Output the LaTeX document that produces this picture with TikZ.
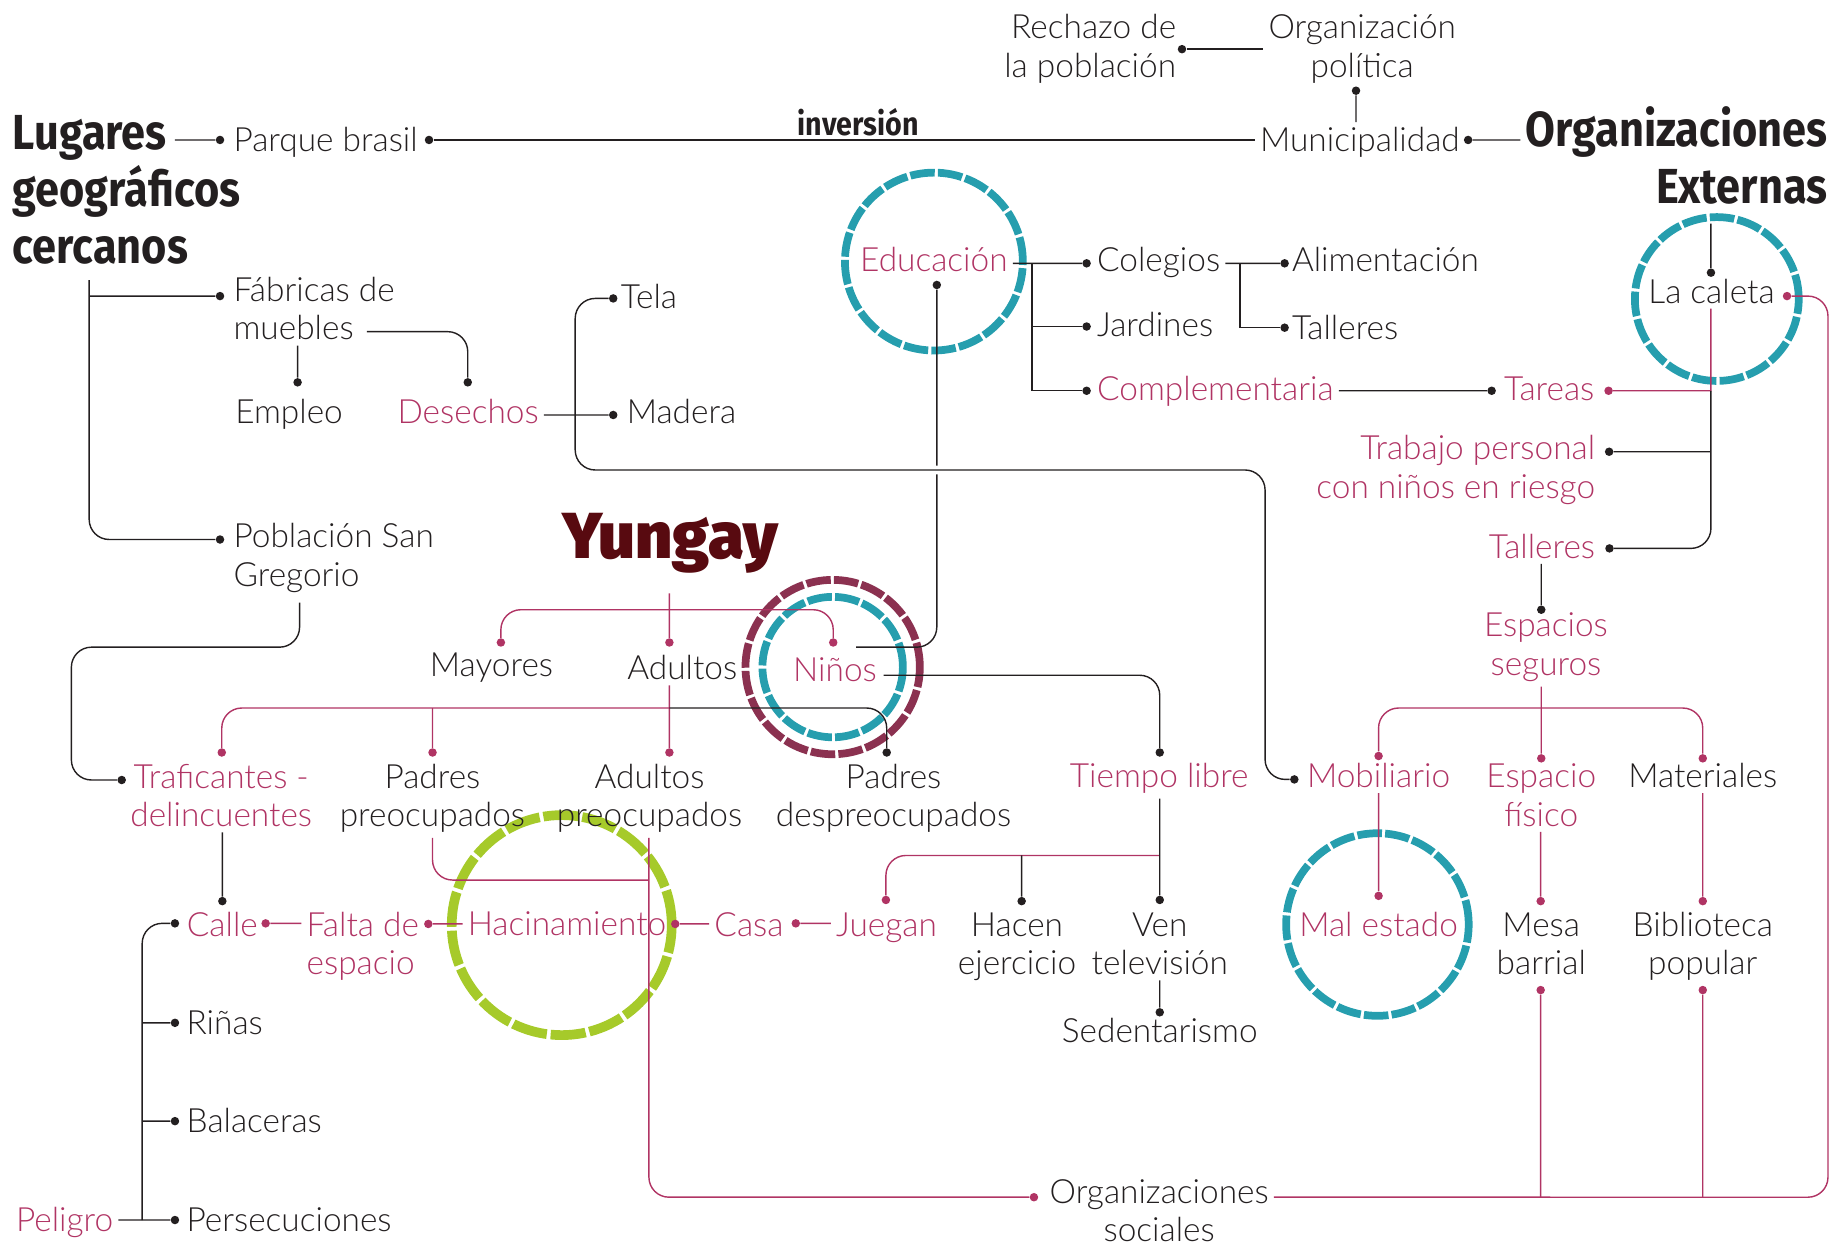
\documentclass[tikz,border=0pt]{standalone}
\usepackage{fontspec}
\IfFontExistsTF{Lato Light}{\newfontfamily\lite{Lato Light}}{\newfontfamily\lite{Lato}}
\newfontfamily\heavy{Fira Sans}[FakeStretch=0.88]
\IfFontExistsTF{Fira Sans Black}{\newfontfamily\negra{Fira Sans Black}}{\newfontfamily\negra{Fira Sans}[UprightFont={* Bold}]}
\definecolor{ink}{RGB}{35,31,32}
\definecolor{rosa}{RGB}{176,52,100}
\definecolor{turq}{RGB}{38,158,174}
\definecolor{vino}{RGB}{139,49,80}
\definecolor{lima}{RGB}{166,202,42}
\definecolor{granate}{RGB}{88,10,16}

\begin{document}
\begin{tikzpicture}[scale=0.234]
    \tikzstyle{every node}+=[inner sep=0pt]
    \tikzstyle{txt}=[font=\lite\fontsize{19}{22}\selectfont, text=ink, align=center, outer sep=3pt]
    \tikzstyle{pk}=[txt, text=rosa]
    \tikzstyle{hd}=[font=\heavy\bfseries\fontsize{28}{32.5}\selectfont, text=ink, outer sep=3pt]
    \tikzstyle{dot}=[circle, fill=ink, minimum size=1.7mm]
    \tikzstyle{pdot}=[dot, fill=rosa]
    \tikzstyle{ln}=[draw=ink, line width=0.8pt]
    \tikzstyle{pln}=[draw=rosa, line width=0.8pt]
    \tikzstyle{soga}=[line width=4.4pt, dash pattern=on 14pt off 1.8pt]
    \useasboundingbox (0,0) rectangle (156.8,-106.73);
    % rings
    \draw [turq, soga] (79.8,-22.35) circle (7.6);
    \draw [turq, soga] (146.7,-25.55) circle (7.0);
    \draw [vino, soga] (71.15,-57.0) circle (7.45);
    \draw [turq, soga] (71.15,-57.0) circle (6.0);
    \draw [turq, soga] (117.7,-79.0) circle (7.8);
    \draw [lima, soga, line width=5.5pt, dash pattern=on 20pt off 2.2pt] (48.0,-79.05) circle (9.4);
    % headings (base = last line)
    \node [hd, anchor=base west, align=left] (lugares) at (0.65,-22.5) {Lugares\\geográficos\\cercanos};
    \node [hd, anchor=base east, align=right] (orgext) at (156.6,-17.37) {Organizaciones\\Externas};
    \node [font=\negra\fontsize{37}{40}\selectfont, text=granate, anchor=base] (yungay) at (57.25,-47.7) {Yungay};
    % top
    \node [txt, anchor=base east, align=right] (rechazo) at (100.95,-6.6) {Rechazo de\\la población};
    \node [dot] (dRech) at (101.0,-4.2) {};
    \node [txt, anchor=base] (orgpol) at (116.4,-6.6) {Organización\\política};
    \node [dot] (dOrgpol) at (115.87,-7.75) {};
    \node [txt, anchor=base] (muni) at (116.2,-12.96) {Municipalidad};
    \node [dot] (dMuni) at (125.45,-11.96) {};
    \coordinate (lugE) at (14.94,-11.96);
    \node [dot] (dParque) at (18.8,-11.96) {};
    \node [txt, anchor=base west] (parque) at (19.51,-12.96) {Parque brasil};
    \node [dot] (dParque2) at (36.66,-11.96) {};
    % lugares
    \coordinate (lugB) at (7.62,-23.93);
    \node [dot] (dFab) at (18.8,-25.3) {};
    \node [txt, anchor=base west, align=left] (fabricas) at (19.51,-29.05) {Fábricas de\\muebles};
    \node [dot] (dPob) at (18.8,-46.1) {};
    \node [txt, anchor=base west, align=left] (pob) at (19.51,-50.1) {Población San\\Gregorio};
    \node [dot] (dEmp) at (25.43,-32.67) {};
    \node [txt, anchor=base] (empleo) at (24.7,-36.15) {Empleo};
    \node [dot] (dDes) at (39.97,-32.67) {};
    \node [pk, anchor=base] (desechos) at (40.0,-36.15) {Desechos};
    \coordinate (mubE) at (31.34,-28.34);
    \node [dot] (dTela) at (52.4,-25.5) {};
    \node [txt, anchor=base west] (tela) at (52.61,-26.4) {Tela};
    \node [dot] (dMad) at (52.4,-35.46) {};
    \node [txt, anchor=base west] (madera) at (53.11,-36.15) {Madera};
    % educacion
    \node [pk, anchor=base] (educ) at (79.8,-23.2) {Educación};
    \node [dot] (dEduc) at (80.05,-24.35) {};
    \coordinate (eduEnd) at (73.15,-55.3);
    \coordinate (eduJ) at (88.2,-22.5);
    \node [dot] (dCol) at (92.85,-22.5) {};
    \node [txt, anchor=base west] (colegios) at (93.3,-23.2) {Colegios};
    \node [dot] (dJar) at (92.85,-27.9) {};
    \node [txt, anchor=base west] (jardines) at (93.3,-28.77) {Jardines};
    \node [dot] (dComp) at (92.85,-33.39) {};
    \node [pk, anchor=base west] (compl) at (93.3,-34.18) {Complementaria};
    \coordinate (colJ) at (105.96,-22.5);
    \node [dot] (dAlim) at (109.77,-22.5) {};
    \node [txt, anchor=base west] (alim) at (109.95,-23.2) {Alimentación};
    \node [dot] (dTal1) at (109.77,-28.0) {};
    \node [txt, anchor=base west] (tal1) at (109.95,-28.99) {Talleres};
    \node [dot] (dTar) at (127.46,-33.39) {};
    \node [pk, anchor=base] (tareas) at (132.38,-34.18) {Tareas};
    \node [pdot] (dTar2) at (137.45,-33.39) {};
    % la caleta
    \node [txt, anchor=base] (caleta) at (146.25,-25.9) {La caleta};
    \node [dot] (dCal) at (146.2,-23.3) {};
    \node [pdot] (dCal2) at (152.7,-25.3) {};
    \coordinate (calT) at (146.2,-19.1);
    \coordinate (calJ) at (146.2,-33.39);
    \node [dot] (dTrab) at (137.5,-38.6) {};
    \node [pk, anchor=base east, align=right] (trabajo) at (136.75,-42.6) {Trabajo personal\\con niños en riesgo};
    \node [dot] (dTal2) at (137.53,-46.86) {};
    \node [pk, anchor=base east] (tal2) at (136.75,-47.7) {Talleres};
    \node [dot] (dEsp) at (131.7,-52.1) {};
    \node [pk, anchor=base] (espseg) at (132.1,-57.7) {Espacios\\seguros};
    \coordinate (espJ) at (131.7,-60.5);
    \node [pdot] (dMob2) at (117.8,-64.6) {};
    \node [pdot] (dEfis) at (131.7,-64.8) {};
    \node [pdot] (dMat) at (145.5,-64.8) {};
    \node [dot] (dMob) at (110.6,-66.6) {};
    \node [pk, anchor=base] (mob) at (117.8,-67.3) {Mobiliario};
    \node [pk, anchor=base] (espfis) at (131.7,-70.6) {Espacio\\físico};
    \node [txt, anchor=base] (mat) at (145.5,-67.3) {Materiales};
    \node [pdot] (dMal) at (117.8,-76.55) {};
    \node [pk, anchor=base] (malest) at (117.8,-80.0) {Mal estado};
    \node [pdot] (dMesa) at (131.65,-77.0) {};
    \node [txt, anchor=base] (mesa) at (131.7,-83.3) {Mesa\\barrial};
    \node [pdot] (dMesa2) at (131.65,-84.6) {};
    \node [pdot] (dBib) at (145.5,-77.0) {};
    \node [txt, anchor=base] (biblio) at (145.5,-83.3) {Biblioteca\\popular};
    \node [pdot] (dBib2) at (145.5,-84.6) {};
    \node [pdot] (dSoc) at (88.35,-102.3) {};
    \node [txt, anchor=base] (orgsoc) at (99.05,-106.1) {Organizaciones\\sociales};
    % yungay
    \coordinate (yungB) at (57.2,-50.7);
    \coordinate (yungJ) at (57.2,-52.1);
    \node [pdot] (dMay) at (42.8,-54.9) {};
    \node [txt, anchor=base] (mayores) at (42.0,-57.8) {Mayores};
    \node [pdot] (dAdu1) at (57.2,-54.9) {};
    \node [txt, anchor=base] (adult1) at (58.3,-58.1) {Adultos};
    \node [pdot] (dNin) at (71.2,-54.9) {};
    \node [pk, anchor=base] (ninos) at (71.35,-58.2) {Niños};
    \coordinate (ninR) at (75.5,-57.7);
    \node [dot] (dTl) at (99.1,-64.3) {};
    \node [pk, anchor=base] (tiempo) at (99.05,-67.3) {Tiempo libre};
    \coordinate (tierJ) at (57.2,-60.5);
    \node [pdot] (dTraf) at (18.95,-64.3) {};
    \node [pdot] (dPp) at (36.96,-64.3) {};
    \node [pdot] (dAdp) at (57.2,-64.3) {};
    \node [dot] (dPdes) at (75.77,-64.3) {};
    \node [pk, anchor=base] (traf) at (18.9,-70.65) {Traficantes -\\delincuentes};
    \node [txt, anchor=base] (padp) at (36.95,-70.65) {Padres\\preocupados};
    \node [txt, anchor=base] (adp) at (55.5,-70.65) {Adultos\\preocupados};
    \node [txt, anchor=base] (pdes) at (76.35,-70.65) {Padres\\despreocupados};
    \coordinate (pobB) at (25.6,-51.5);
    \node [dot] (dTrafL) at (10.4,-66.65) {};
    \coordinate (adJ) at (55.45,-75.2);
    % calle
    \node [dot] (dCalT) at (19.0,-77.0) {};
    \node [pk, anchor=base] (calle) at (19.0,-80.0) {Calle};
    \node [dot] (dCalL) at (14.95,-78.9) {};
    \node [pdot] (dCalR) at (22.7,-78.9) {};
    \node [pk, anchor=base west, align=left] (falta) at (25.75,-83.3) {Falta de\\espacio};
    \node [pdot] (dFal) at (36.6,-78.95) {};
    \node [pk, anchor=base] (hacin) at (48.45,-79.9) {Hacinamiento};
    \node [pdot] (dHac) at (57.7,-78.95) {};
    \node [pk, anchor=base] (casa) at (64.0,-80.0) {Casa};
    \node [pdot] (dCasa) at (68.0,-78.9) {};
    \node [pk, anchor=base] (juegan) at (75.75,-80.0) {Juegan};
    \node [pdot] (dJue) at (75.7,-76.9) {};
    \coordinate (tlJ) at (99.1,-73.1);
    \node [dot] (dHacen) at (87.3,-77.0) {};
    \node [txt, anchor=base] (hacen) at (86.9,-83.3) {Hacen\\ejercicio};
    \node [dot] (dVen) at (99.1,-76.9) {};
    \node [txt, anchor=base] (ven) at (99.1,-83.3) {Ven\\televisión};
    \node [dot] (dSed) at (99.1,-86.5) {};
    \node [txt, anchor=base] (sed) at (99.1,-89.1) {Sedentarismo};
    \coordinate (vB) at (12.15,-104.25);
    \node [dot] (dRin) at (14.95,-87.4) {};
    \node [txt, anchor=base west] (rin) at (15.5,-88.4) {Riñas};
    \node [dot] (dBal) at (14.95,-95.8) {};
    \node [txt, anchor=base west] (bal) at (15.5,-96.8) {Balaceras};
    \node [dot] (dPer) at (14.95,-104.25) {};
    \node [txt, anchor=base west] (per) at (15.5,-105.2) {Persecuciones};
    \node [pk, anchor=base west] (peligro) at (0.92,-105.2) {Peligro};
    % connectors, top
    \draw [ln] (dRech) -- (dRech -| orgpol.west);
    \draw [ln] (dOrgpol) -- (dOrgpol |- muni.north);
    \draw [ln] (dMuni) -- (dMuni -| orgext.west);
    \draw [ln] (lugE) -- (dParque);
    \draw [ln] (dParque2) -- node [pos=0.517, above=2pt, font=\heavy\bfseries\fontsize{18.5}{20}\selectfont, text=ink] {inversión} (dParque2 -| muni.west);
    \draw [ln, rounded corners=4mm] (lugB) |- (dPob);
    \draw [ln] (lugB |- dFab) -- (dFab);
    \draw [ln] (dEmp |- fabricas.south) -- (dEmp);
    \draw [ln, rounded corners=4mm] (mubE) -| (dDes);
    % educacion
    \draw [ln, rounded corners=4mm] (dEduc) |- (eduEnd);
    \draw [ln, rounded corners=4mm, preaction={draw=white, line width=5pt}] (dTela) -| (49.15,-40.16) -| (108.1,-66.6) -- (dMob);
    \draw [ln] (desechos.east |- dMad) -- (dMad);
    \draw [ln] (educ.east |- dCol) -- (dCol);
    \draw [ln] (eduJ) |- (dJar);
    \draw [ln] (eduJ) |- (dComp);
    \draw [ln] (colegios.east |- dAlim) -- (dAlim);
    \draw [ln] (colJ) |- (dTal1);
    \draw [ln] (compl.east |- dTar) -- (dTar);
    % la caleta
    \draw [ln] (calT) -- (dCal);
    \draw [pln] (dCal |- caleta.south) -- (calJ) -- (dTar2);
    \draw [ln, rounded corners=4mm] (calJ) |- (dTal2);
    \draw [ln] (calJ |- dTrab) -- (dTrab);
    \draw [ln] (dEsp |- tal2.south) -- (dEsp);
    \draw [pln] (dEsp |- espseg.south) -- (dEfis);
    \draw [pln, rounded corners=4mm] (dMob2) |- (espJ) -| (dMat);
    \draw [pln] (dMal |- mob.south) -- (dMal);
    \draw [pln] (dMesa |- espfis.south) -- (dMesa);
    \draw [pln] (dBib |- mat.south) -- (dBib);
    \draw [pln] (dMesa2) -- (dMesa2 |- dSoc);
    \draw [pln] (dBib2) -- (dBib2 |- dSoc);
    \draw [pln, rounded corners=4mm] (dCal2) -| (156.2,-102.3) -- (dSoc -| orgsoc.east);
    % yungay
    \draw [pln] (yungB) -- (dAdu1);
    \draw [pln, rounded corners=4mm] (dMay) |- (yungJ) -| (dNin);
    \draw [ln, rounded corners=4mm] (ninR) -| (dTl);
    \draw [pln] (dAdu1 |- adult1.south) -- (dAdp);
    \draw [pln, rounded corners=4mm] (tierJ) -| (dTraf);
    \draw [pln] (dPp |- tierJ) -- (dPp);
    \draw [ln, rounded corners=4mm] (tierJ) -| (dPdes);
    \draw [ln, rounded corners=4mm] (pobB) |- (6.1,-55.3) |- (dTrafL);
    \draw [pln, rounded corners=4mm] (dPp |- padp.south) |- (adJ);
    \draw [pln, rounded corners=4mm] (adJ |- adp.south) |- (dSoc);
    % calle
    \draw [ln] (dCalT |- traf.south) -- (dCalT);
    \draw [ln, rounded corners=4mm] (dCalL) -| (vB);
    \draw [ln] (vB |- dRin) -- (dRin);
    \draw [ln] (vB |- dBal) -- (dBal);
    \draw [ln] (peligro.east |- dPer) -- (dPer);
    \draw [pln] (dCalR) -- (dCalR -| falta.west);
    \draw [pln] (dFal) -- (dFal -| hacin.west);
    \draw [pln] (dHac) -- (dHac -| casa.west);
    \draw [pln] (dCasa) -- (dCasa -| juegan.west);
    \draw [pln, rounded corners=4mm] (dJue) |- (tlJ);
    \draw [ln] (dHacen |- tlJ) -- (dHacen);
    \draw [ln] (dTl |- tiempo.south) -- (dVen);
    \draw [ln] (dSed |- ven.south) -- (dSed);
\end{tikzpicture}
\end{document}
